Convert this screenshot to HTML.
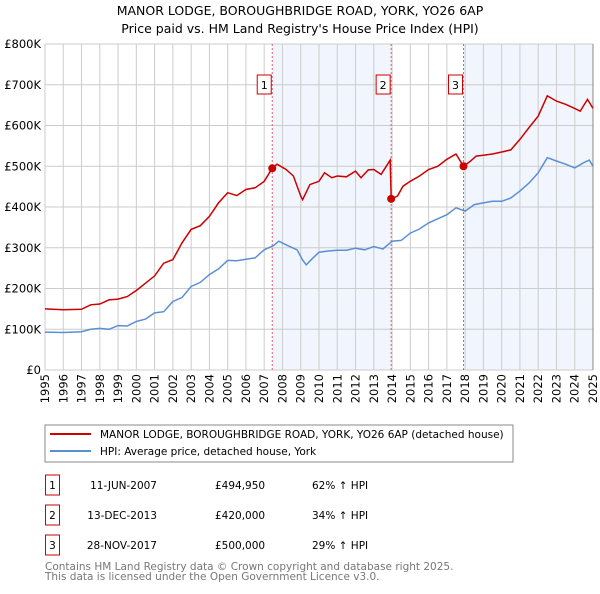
<!DOCTYPE html>
<html><head><meta charset="utf-8"><style>
body{margin:0;background:#fff;font-family:"DejaVu Sans","Liberation Sans",sans-serif;}
svg text{font-family:"DejaVu Sans","Liberation Sans",sans-serif;}
</style></head><body>
<svg id="c" width="600" height="590" xmlns="http://www.w3.org/2000/svg">
<text x="300" y="15" text-anchor="middle" font-size="12.5">MANOR LODGE, BOROUGHBRIDGE ROAD, YORK, YO26 6AP</text>
<text x="300" y="33" text-anchor="middle" font-size="12.5">Price paid vs. HM Land Registry's House Price Index (HPI)</text>
<g id="plot"></g>
<rect x="45" y="425" width="468" height="37" fill="#fff" stroke="#888"/>
<line x1="50" y1="434" x2="91" y2="434" stroke="#cc0000" stroke-width="2"/>
<text x="100" y="438" font-size="10.5">MANOR LODGE, BOROUGHBRIDGE ROAD, YORK, YO26 6AP (detached house)</text>
<line x1="50" y1="451" x2="91" y2="451" stroke="#5b8fd4" stroke-width="2"/>
<text x="100" y="455" font-size="10.5">HPI: Average price, detached house, York</text>
<g id="tbl" font-size="10.5"></g>
<text x="45" y="570" font-size="10.5" fill="#777">Contains HM Land Registry data © Crown copyright and database right 2025.</text>
<text x="45" y="580" font-size="10.5" fill="#777">This data is licensed under the Open Government Licence v3.0.</text>
</svg>
<script>
const hpiYears=[1995,1996,1997,1997.5,1998,1998.5,1999,1999.5,2000,2000.5,2001,2001.5,2002,2002.5,2003,2003.5,2004,2004.5,2005,2005.5,2006,2006.5,2007,2007.5,2007.8,2008.3,2008.8,2009.1,2009.3,2009.6,2010,2010.5,2011,2011.5,2012,2012.5,2013,2013.5,2014,2014.5,2015,2015.5,2016,2016.5,2017,2017.5,2018,2018.5,2019,2019.5,2020,2020.5,2021,2021.5,2022,2022.5,2023,2023.5,2024,2024.5,2024.8,2025];
const hpiValues=[93,92,94,100,102,100,109,108,119,125,140,143,168,178,205,215,234,248,269,268,272,275,295,305,316,305,295,270,258,272,289,292,294,294,299,295,303,297,316,318,336,346,361,371,381,398,390,406,410,414,414,422,439,459,484,521,513,505,496,509,515,500];
const redYears=[1995,1996,1997,1997.5,1998,1998.5,1999,1999.5,2000,2000.5,2001,2001.5,2002,2002.5,2003,2003.5,2004,2004.5,2005,2005.5,2006,2006.5,2007,2007.44,2007.7,2008.2,2008.6,2009.0,2009.1,2009.5,2010,2010.3,2010.7,2011,2011.5,2012,2012.3,2012.7,2013,2013.4,2013.9,2013.95,2014.3,2014.6,2015,2015.5,2016,2016.5,2017,2017.5,2017.91,2018.3,2018.6,2019,2019.5,2020,2020.5,2021,2021.5,2022,2022.5,2023,2023.5,2024,2024.3,2024.7,2025];
const redValues=[150,148,149,160,162,172,174,180,195,213,231,262,271,312,345,354,377,410,435,428,443,447,463,495,505,492,476,427,418,455,463,484,472,476,474,488,472,491,492,480,515,420,427,451,463,476,492,500,517,530,500,513,525,527,530,535,540,566,595,623,673,660,652,642,635,664,642];
const saleYears=[2007.44,2013.95,2017.91];
const saleValues=[494.95,420,500];
const saleLabels=["1","2","3"];
const saleDates=["11-JUN-2007","13-DEC-2013","28-NOV-2017"];
const salePrices=["£494,950","£420,000","£500,000"];
const salePct=["62% ↑ HPI","34% ↑ HPI","29% ↑ HPI"];
const yTicks=[0,100,200,300,400,500,600,700,800];
const yTickLabels=["£0","£100K","£200K","£300K","£400K","£500K","£600K","£700K","£800K"];
const xTicks=[1995,1996,1997,1998,1999,2000,2001,2002,2003,2004,2005,2006,2007,2008,2009,2010,2011,2012,2013,2014,2015,2016,2017,2018,2019,2020,2021,2022,2023,2024,2025];

const NS="http://www.w3.org/2000/svg";
const X0=45,X1=593,Y0=370,Y1=44;
const x=yr=>X0+(yr-1995)/30*(X1-X0);
const y=v=>Y0-v/800*(Y0-Y1);
const plot=document.getElementById('plot');
function mk(tag,attrs,parent){const e=document.createElementNS(NS,tag);for(const k in attrs)e.setAttribute(k,attrs[k]);(parent||plot).appendChild(e);return e;}
const shades=[[saleYears[0],saleYears[1]],[saleYears[2],2025]];
shades.forEach((s,i)=>{const r=mk('rect',{x:x(s[0]),y:Y1,width:x(s[1])-x(s[0]),height:Y0-Y1,fill:'#eef2fc',opacity:0.8});

});
yTicks.forEach((t,i)=>{const l=mk('line',{x1:X0,x2:X1,y1:y(t),y2:y(t),stroke:'#ccc','stroke-width':1});


const tx=mk('text',{x:X0-4,y:y(t)+4,'text-anchor':'end','font-size':11.5});tx.textContent=yTickLabels[i];

});
xTicks.forEach(t=>{const l=mk('line',{x1:x(t),x2:x(t),y1:Y1,y2:Y0,stroke:'#ccc','stroke-width':1});


const tx=mk('text',{x:0,y:0,'text-anchor':'end','font-size':11.5,transform:`translate(${x(t)+4},374) rotate(-90)`});tx.textContent=t;

});
const rb=mk('line',{x1:X1,x2:X1,y1:Y1,y2:Y0,stroke:'#888','stroke-width':1});


saleYears.forEach((s,i)=>{const l=mk('line',{x1:x(s),x2:x(s),y1:Y1,y2:Y0,stroke:'#e06060','stroke-width':1,'stroke-dasharray':'2,2'});

});
const pts=(xs,vs)=>xs.map((a,i)=>x(a).toFixed(1)+','+y(vs[i]).toFixed(1)).join(' ');
const hl=mk('polyline',{points:pts(hpiYears,hpiValues),fill:'none',stroke:'#5b8fd4','stroke-width':1.5});


const rl=mk('polyline',{points:pts(redYears,redValues),fill:'none',stroke:'#cc0000','stroke-width':1.5});


saleYears.forEach((s,i)=>{const c=mk('circle',{cx:x(s),cy:y(saleValues[i]),r:4,fill:'#cc0000'});


const g=mk('g',{});


mk('rect',{x:x(s)-15,y:75,width:14,height:19,fill:'#fff',stroke:'#cc0000'},g);
const t=mk('text',{x:x(s)-8,y:89,'text-anchor':'middle','font-size':11},g);t.textContent=saleLabels[i];});
const tbl=document.getElementById('tbl');
saleLabels.forEach((lb,i)=>{const yy=475+i*30;
const g=mk('g',{},tbl);


mk('rect',{x:45.5,y:yy,width:14,height:20,fill:'#fff',stroke:'#cc0000'},g);
const t0=mk('text',{x:52.5,y:yy+14,'text-anchor':'middle'},g);t0.textContent=lb;
const t1=mk('text',{x:157,y:yy+14,'text-anchor':'end'},g);t1.textContent=saleDates[i];
const t2=mk('text',{x:215,y:yy+14},g);t2.textContent=salePrices[i];
const t3=mk('text',{x:312,y:yy+14},g);t3.textContent=salePct[i];});
</script>
</body></html>
